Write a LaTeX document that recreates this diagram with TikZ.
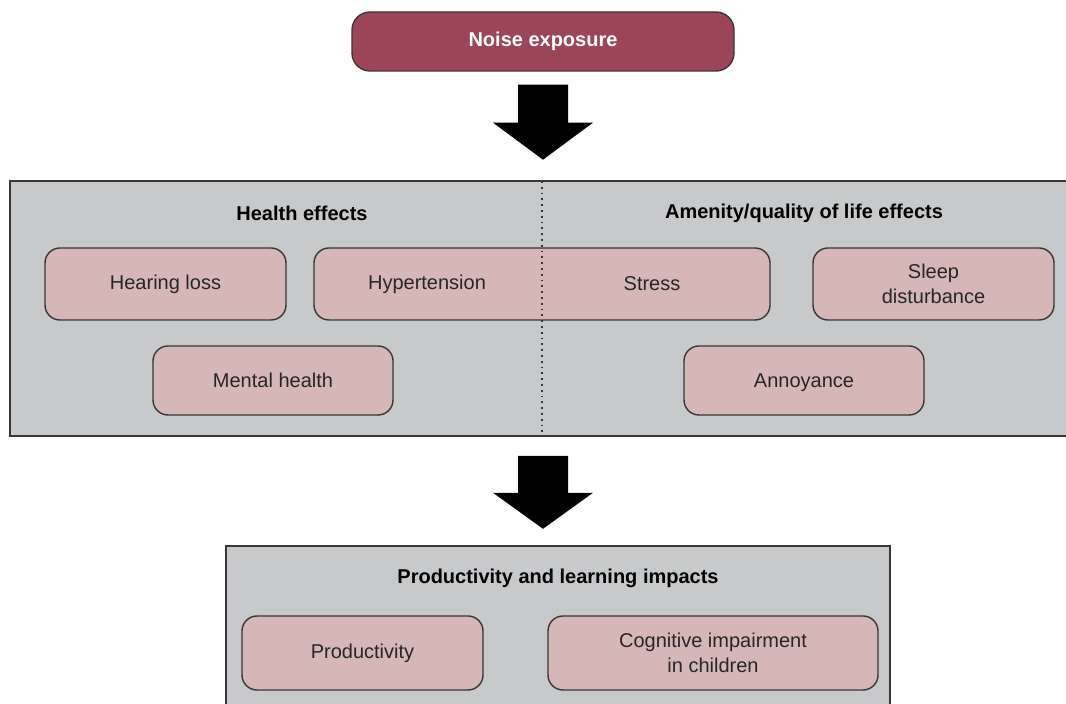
\documentclass[tikz,border=0pt]{standalone}
\usepackage{fontspec}
\setmainfont{Liberation Sans}
\usepackage{tikz}
\usetikzlibrary{calc}
\usepackage{xcolor}

\definecolor{noisered}{RGB}{157,69,88}
\definecolor{effectpink}{RGB}{214,183,184}
\definecolor{panelgrey}{RGB}{200,201,203}
\definecolor{edgegrey}{RGB}{55,55,55}

\begin{document}
\begin{tikzpicture}[x=0.5pt,y=-0.5pt,
every node/.style={font=\fontsize{10}{12.5}\selectfont,text=black!85},
source/.style={draw=edgegrey,fill=noisered,line width=0.7pt,rounded corners=9pt,
  text=white,font=\fontsize{10}{12.5}\selectfont\bfseries,minimum width=191pt,minimum height=29.5pt},
panel/.style={draw=edgegrey,fill=panelgrey,line width=0.8pt,inner sep=0pt},
effect/.style={draw=edgegrey,fill=effectpink,line width=0.7pt,rounded corners=7.5pt,
  align=center,inner sep=0pt,minimum width=120.5pt,minimum height=36pt},
heading/.style={font=\fontsize{10}{12.5}\selectfont\bfseries,text=black},
blockarr/.style={fill=black}]
\useasboundingbox (0,0) rectangle (1066,704);

\node[source] (noise) at (543,41.5) {Noise exposure};
\coordinate (a1) at ($(noise.south)+(0,13)$);
\fill[blockarr] (a1) ++(-25,0) -- ++(50,0) -- ++(0,38) -- ++(25,0) -- ++(-50,37)
  -- ++(-50,-37) -- ++(25,0) -- cycle;

% health / amenity panel
\node[panel,minimum width=535pt,minimum height=127.5pt] (effects) at (545,308.5) {};
\node[heading] (health) at (302,213) {Health effects};
\node[heading] (amenity) at (804,213) {Amenity/quality of life effects};

\node[effect] (hearing) at (165.5,284) {Hearing loss};
\node[effect,minimum width=228pt] (hypstr) at (542,284) {};
\node (hyper) at (427,284) {Hypertension};
\node (stress) at (652,284) {Stress};
\node[effect] (sleep) at (933.5,284) {Sleep\\disturbance};
\node[effect,minimum width=120pt,minimum height=34.5pt] (mental) at (273,380.5) {Mental health};
\node[effect,minimum width=120pt,minimum height=34.5pt,text depth=0pt] (annoy) at (804,380.5) {Annoyance};

\coordinate (div) at (542,181);
\draw[edgegrey,dotted,line width=0.9pt] (div) -- (div |- effects.south);

\coordinate (a2) at ($(effects.south)+(-2,19)$);
\fill[blockarr] (a2) ++(-25,0) -- ++(50,0) -- ++(0,37) -- ++(25,0) -- ++(-50,36)
  -- ++(-50,-36) -- ++(25,0) -- cycle;

% productivity panel
\node[panel,minimum width=332pt,minimum height=90pt] (impacts) at (558,636) {};
\node[heading] (prodtitle) at (558,578) {Productivity and learning impacts};
\node[effect,minimum height=37pt] (prod) at (362.5,653) {Productivity};
\node[effect,minimum width=165pt,minimum height=37pt] (cogn) at (713,653) {Cognitive impairment\\in children};
\end{tikzpicture}
\end{document}
